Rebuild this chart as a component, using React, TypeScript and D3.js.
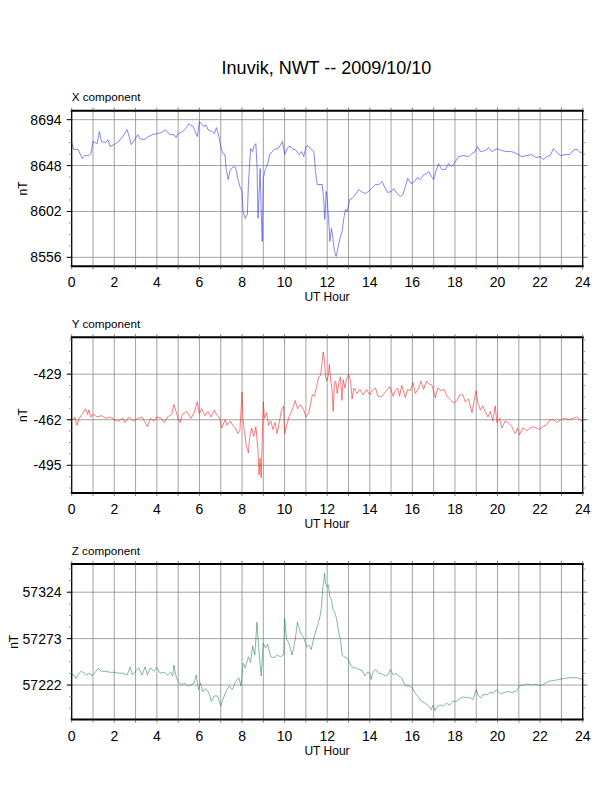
import React, { useEffect, useRef } from 'react';
import * as d3 from 'd3';

// readings [UT hour, nT]
const xComponent = [
  [0, 8671], [0.1, 8664], [0.3, 8664], [0.5, 8655], [0.6, 8658], [0.8, 8658], [0.9, 8660], [1.0, 8672], [1.2, 8670], [1.3, 8682],
  [1.4, 8672], [1.6, 8671], [1.7, 8674], [1.8, 8667], [2.0, 8669], [2.2, 8672], [2.4, 8677], [2.6, 8684], [2.7, 8677], [2.8, 8669],
  [3.0, 8675], [3.1, 8679], [3.2, 8675], [3.4, 8674], [3.6, 8677], [3.8, 8679], [4.0, 8680], [4.2, 8681], [4.4, 8684], [4.6, 8679],
  [4.8, 8679], [4.9, 8676], [5.0, 8680], [5.2, 8682], [5.4, 8686], [5.5, 8690], [5.7, 8687], [5.9, 8677], [6.0, 8692], [6.1, 8690],
  [6.2, 8687], [6.3, 8689], [6.4, 8684], [6.6, 8682], [6.7, 8680], [6.8, 8686], [6.9, 8679], [7.0, 8667], [7.1, 8660], [7.2, 8659],
  [7.25, 8645], [7.35, 8634], [7.45, 8644], [7.6, 8647], [7.7, 8646], [7.8, 8635], [7.9, 8627], [8.0, 8622], [8.05, 8602], [8.15, 8595],
  [8.25, 8599], [8.3, 8629], [8.4, 8665], [8.5, 8662], [8.55, 8667], [8.65, 8670], [8.7, 8649], [8.75, 8595], [8.8, 8619], [8.85, 8645],
  [8.9, 8602], [8.95, 8572], [9.0, 8635], [9.1, 8645], [9.2, 8649], [9.3, 8659], [9.5, 8664], [9.7, 8665], [9.9, 8672], [10.0, 8659],
  [10.1, 8664], [10.2, 8667], [10.3, 8667], [10.4, 8664], [10.5, 8664], [10.7, 8659], [10.8, 8662], [10.9, 8657], [11.0, 8667], [11.1, 8668],
  [11.22, 8665], [11.375, 8662], [11.45, 8642], [11.53, 8629], [11.77, 8629], [11.84, 8612], [11.89, 8594], [11.95, 8622], [12.0, 8615], [12.08, 8589],
  [12.125, 8572], [12.2, 8585], [12.27, 8575], [12.34, 8562], [12.42, 8557], [12.5, 8565], [12.6, 8575], [12.7, 8582], [12.78, 8595], [12.86, 8604],
  [12.94, 8602], [13.06, 8614], [13.17, 8615], [13.33, 8619], [13.48, 8624], [13.6, 8622], [13.77, 8620], [13.95, 8622], [14.08, 8625], [14.27, 8629],
  [14.42, 8629], [14.58, 8632], [14.73, 8625], [14.84, 8621], [15.0, 8622], [15.12, 8625], [15.28, 8620], [15.44, 8617], [15.56, 8619], [15.67, 8627],
  [15.78, 8635], [15.94, 8630], [16.1, 8632], [16.22, 8636], [16.375, 8634], [16.53, 8639], [16.66, 8640], [16.77, 8642], [16.89, 8637], [17.0, 8634],
  [17.1, 8642], [17.23, 8650], [17.39, 8644], [17.55, 8644], [17.7, 8650], [17.86, 8647], [18.02, 8652], [18.17, 8657], [18.4, 8658], [18.64, 8657],
  [18.8, 8660], [18.95, 8662], [19.06, 8667], [19.19, 8662], [19.42, 8663], [19.58, 8666], [19.73, 8662], [19.97, 8665], [20.2, 8663], [20.44, 8662],
  [20.67, 8662], [20.9, 8660], [21.14, 8657], [21.375, 8658], [21.61, 8659], [21.81, 8656], [22.0, 8657], [22.16, 8654], [22.31, 8657], [22.47, 8658],
  [22.625, 8665], [22.75, 8662], [22.94, 8658], [23.17, 8659], [23.4, 8659], [23.6, 8664], [23.75, 8664], [23.875, 8661], [24, 8662]
];

const yComponent = [
  [0, -461], [0.1, -462], [0.15, -460], [0.25, -466], [0.35, -461], [0.5, -458], [0.65, -454], [0.75, -458], [0.8, -455], [0.9, -460],
  [1.0, -458], [1.2, -460], [1.4, -459], [1.6, -461], [1.8, -460], [2.0, -462], [2.2, -463], [2.4, -461], [2.5, -464], [2.7, -460],
  [2.9, -463], [3.1, -461], [3.3, -460], [3.45, -464], [3.55, -467], [3.7, -461], [3.85, -463], [4.0, -460], [4.2, -461], [4.35, -464],
  [4.5, -460], [4.7, -458], [4.8, -451], [4.9, -456], [5.0, -461], [5.1, -464], [5.2, -458], [5.4, -456], [5.6, -461], [5.75, -457],
  [5.9, -449], [6.0, -458], [6.1, -454], [6.25, -459], [6.4, -456], [6.55, -460], [6.7, -455], [6.8, -458], [6.95, -461], [7.05, -468],
  [7.2, -462], [7.3, -466], [7.45, -463], [7.6, -467], [7.7, -468], [7.8, -472], [7.9, -470], [8.0, -442], [8.05, -462], [8.1, -469],
  [8.2, -481], [8.3, -486], [8.35, -476], [8.45, -468], [8.55, -474], [8.65, -467], [8.75, -484], [8.8, -502], [8.85, -490], [8.9, -504],
  [9.0, -449], [9.05, -461], [9.15, -457], [9.25, -466], [9.35, -463], [9.45, -469], [9.55, -464], [9.65, -472], [9.75, -464], [9.85, -455],
  [9.95, -452], [10.0, -472], [10.1, -466], [10.2, -460], [10.35, -455], [10.5, -448], [10.6, -454], [10.75, -451], [10.9, -455], [11.0, -460],
  [11.14, -457], [11.3, -444], [11.4, -445], [11.5, -438], [11.6, -431], [11.69, -430], [11.77, -419], [11.81, -413], [11.875, -419], [11.92, -431],
  [11.98, -434], [12.05, -430], [12.1, -422], [12.17, -434], [12.23, -440], [12.28, -456], [12.34, -435], [12.4, -434], [12.47, -443], [12.55, -435],
  [12.625, -431], [12.69, -448], [12.75, -433], [12.83, -439], [12.9, -433], [13.0, -429], [13.1, -434], [13.17, -447], [13.25, -439], [13.4, -443],
  [13.53, -440], [13.69, -444], [13.84, -440], [14.0, -444], [14.1, -441], [14.27, -439], [14.375, -445], [14.58, -445], [14.78, -441], [14.94, -438],
  [15.1, -445], [15.2, -441], [15.31, -439], [15.4, -445], [15.5, -437], [15.67, -446], [15.78, -440], [15.9, -441], [16.03, -435], [16.14, -443],
  [16.3, -439], [16.4, -434], [16.53, -440], [16.66, -434], [16.77, -436], [16.92, -437], [17.08, -446], [17.19, -439], [17.34, -441], [17.5, -440],
  [17.625, -445], [17.81, -448], [17.94, -450], [18.1, -448], [18.22, -444], [18.375, -444], [18.48, -449], [18.64, -447], [18.8, -457], [18.9, -448],
  [19.0, -441], [19.08, -450], [19.19, -455], [19.31, -452], [19.42, -456], [19.55, -460], [19.66, -456], [19.78, -463], [19.89, -452], [19.97, -464],
  [20.1, -461], [20.2, -468], [20.36, -463], [20.5, -464], [20.67, -467], [20.83, -472], [20.94, -468], [21.03, -473], [21.19, -468], [21.375, -470],
  [21.53, -468], [21.69, -467], [21.84, -468], [21.97, -469], [22.125, -467], [22.28, -466], [22.47, -462], [22.625, -462], [22.78, -464], [22.97, -462],
  [23.17, -461], [23.375, -462], [23.56, -461], [23.72, -460], [23.875, -462], [24, -463]
];

const zComponent = [
  [0, 57234], [0.1, 57233], [0.2, 57229], [0.3, 57234], [0.45, 57237], [0.6, 57235], [0.7, 57233], [0.85, 57235], [0.95, 57232], [1.1, 57236],
  [1.25, 57240], [1.4, 57237], [1.6, 57237], [1.8, 57236], [2.0, 57236], [2.2, 57235], [2.4, 57235], [2.6, 57233], [2.75, 57242], [2.85, 57233],
  [3.0, 57237], [3.15, 57241], [3.3, 57233], [3.45, 57242], [3.55, 57233], [3.7, 57241], [3.85, 57237], [4.0, 57241], [4.15, 57235], [4.35, 57236],
  [4.5, 57233], [4.65, 57236], [4.75, 57232], [4.8, 57244], [4.9, 57232], [5.0, 57226], [5.15, 57222], [5.3, 57224], [5.45, 57221], [5.6, 57222],
  [5.75, 57224], [5.85, 57233], [5.95, 57217], [6.05, 57224], [6.15, 57215], [6.3, 57218], [6.45, 57213], [6.55, 57204], [6.7, 57210], [6.85, 57210],
  [7.0, 57199], [7.1, 57206], [7.25, 57215], [7.4, 57221], [7.55, 57217], [7.7, 57226], [7.85, 57230], [7.95, 57221], [8.05, 57246], [8.15, 57241],
  [8.3, 57253], [8.4, 57247], [8.5, 57265], [8.6, 57255], [8.7, 57291], [8.75, 57272], [8.85, 57244], [8.9, 57232], [9.0, 57268], [9.1, 57263],
  [9.2, 57267], [9.35, 57253], [9.5, 57252], [9.65, 57255], [9.8, 57253], [9.95, 57255], [10.0, 57295], [10.1, 57272], [10.2, 57268], [10.35, 57255],
  [10.5, 57272], [10.6, 57291], [10.75, 57279], [10.9, 57274], [11.03, 57264], [11.14, 57266], [11.25, 57261], [11.375, 57274], [11.53, 57286], [11.66, 57297],
  [11.73, 57308], [11.8, 57330], [11.84, 57336], [11.875, 57345], [11.92, 57334], [12.0, 57330], [12.06, 57332], [12.125, 57319], [12.2, 57316], [12.27, 57305],
  [12.34, 57303], [12.44, 57295], [12.55, 57279], [12.625, 57272], [12.7, 57255], [12.8, 57253], [12.9, 57252], [13.0, 57250], [13.1, 57244], [13.2, 57241],
  [13.33, 57241], [13.48, 57239], [13.64, 57238], [13.77, 57232], [13.875, 57236], [14.0, 57235], [14.06, 57228], [14.16, 57237], [14.3, 57239], [14.42, 57235],
  [14.58, 57234], [14.73, 57232], [14.84, 57233], [14.97, 57239], [15.1, 57233], [15.2, 57235], [15.36, 57232], [15.5, 57230], [15.67, 57221], [15.83, 57221],
  [16.0, 57219], [16.14, 57213], [16.3, 57208], [16.45, 57204], [16.6, 57202], [16.77, 57199], [16.89, 57195], [16.97, 57200], [17.06, 57194], [17.19, 57199],
  [17.31, 57200], [17.47, 57199], [17.6, 57202], [17.75, 57200], [17.9, 57204], [18.06, 57204], [18.22, 57207], [18.4, 57209], [18.56, 57208], [18.72, 57208],
  [18.84, 57206], [19.0, 57217], [19.1, 57210], [19.22, 57208], [19.34, 57212], [19.5, 57211], [19.66, 57214], [19.81, 57213], [19.94, 57217], [20.1, 57213],
  [20.28, 57213], [20.47, 57215], [20.67, 57214], [20.875, 57215], [21.03, 57221], [21.22, 57222], [21.4, 57223], [21.61, 57222], [21.81, 57223], [22.0, 57221],
  [22.19, 57223], [22.39, 57226], [22.625, 57227], [22.86, 57228], [23.1, 57229], [23.33, 57230], [23.56, 57230], [23.75, 57230], [24, 57228]
];

const hourLabels = [0, 2, 4, 6, 8, 10, 12, 14, 16, 18, 20, 22, 24];
const xTicks = [8556, 8602, 8648, 8694];
const yTicks = [-495, -462, -429];
const zTicks = [57222, 57273, 57324];

const App = () => {
  const ref = useRef(null);

  useEffect(() => {
    if (!ref.current) return;
    d3.select(ref.current).selectAll('*').remove();

    const width = 612;
    const height = 792;
    const left = 71.7;
    const right = 582.7;
    const font = 'Liberation Sans, Arial, Helvetica, sans-serif';

    const svg = d3.select(ref.current)
      .append('svg')
      .attr('width', width)
      .attr('height', height)
      .style('position', 'absolute')
      .style('left', 0)
      .style('top', 0)
      .style('background', 'white');

    svg.append('text')
      .attr('x', 326.5)
      .attr('y', 73.5)
      .attr('text-anchor', 'middle')
      .style('font-family', font)
      .style('font-size', '18px')
      .text('Inuvik, NWT -- 2009/10/10');

    const x = d3.scaleLinear().domain([0, 24]).range([left, right]);

    const panels = [
      { name: 'X component', data: xComponent, ticks: xTicks, domain: [8547, 8703], top: 110.7, color: '#3333ff', nTx: 22.5 },
      { name: 'Y component', data: yComponent, ticks: yTicks, domain: [-515, -402.3], top: 337.3, color: '#ff2020', nTx: 22.5 },
      { name: 'Z component', data: zComponent, ticks: zTicks, domain: [57184, 57355], top: 564, color: '#2e8b57', nTx: 14 }
    ];
    const ph = 155.6;

    panels.forEach((p, i) => {
      const bottom = p.top + ph;
      const y = d3.scaleLinear().domain(p.domain).range([bottom, p.top]);
      const g = svg.append('g');

      const step = p.ticks[1] - p.ticks[0];
      const minor = d3.range(p.ticks[0] - step, p.domain[1] + 0.01, step / 4)
        .filter(v => v >= p.domain[0] && v <= p.domain[1]);

      // grid
      g.selectAll('.vg').data(d3.range(1, 24)).enter().append('line')
        .attr('x1', d => x(d)).attr('x2', d => x(d))
        .attr('y1', p.top).attr('y2', bottom)
        .style('stroke', '#8a8a8a').style('stroke-width', 0.8);
      g.selectAll('.hg').data(p.ticks).enter().append('line')
        .attr('x1', left).attr('x2', right)
        .attr('y1', d => y(d)).attr('y2', d => y(d))
        .style('stroke', '#8a8a8a').style('stroke-width', 0.8);

      // clip + series
      const clipId = `clip${i}`;
      svg.append('clipPath').attr('id', clipId)
        .append('rect').attr('x', left).attr('y', p.top).attr('width', right - left).attr('height', ph);
      const line = d3.line().x(d => x(d[0])).y(d => y(d[1]));
      g.append('path')
        .datum(p.data)
        .attr('clip-path', `url(#${clipId})`)
        .attr('d', line)
        .style('fill', 'none')
        .style('stroke', p.color)
        .style('stroke-width', 0.6)
        .style('stroke-linejoin', 'round');

      // frame
      g.append('line').attr('x1', left - 1).attr('x2', right + 1).attr('y1', p.top).attr('y2', p.top)
        .style('stroke', 'black').style('stroke-width', 2);
      g.append('line').attr('x1', left - 1).attr('x2', right + 1).attr('y1', bottom).attr('y2', bottom)
        .style('stroke', 'black').style('stroke-width', 2);
      [left, right].forEach(xx => {
        g.append('line').attr('x1', xx).attr('x2', xx).attr('y1', p.top).attr('y2', bottom)
          .style('stroke', 'black').style('stroke-width', 1.3);
      });

      // hour ticks top and bottom
      d3.range(0, 25).forEach(h => {
        g.append('line').attr('x1', x(h)).attr('x2', x(h)).attr('y1', bottom).attr('y2', bottom + 3)
          .style('stroke', '#555').style('stroke-width', 0.8);
        g.append('line').attr('x1', x(h)).attr('x2', x(h)).attr('y1', p.top).attr('y2', p.top - 3)
          .style('stroke', '#555').style('stroke-width', 0.8);
      });

      // value ticks left and right
      minor.forEach(v => {
        g.append('line').attr('x1', left - 2.5).attr('x2', left).attr('y1', y(v)).attr('y2', y(v))
          .style('stroke', '#777').style('stroke-width', 0.8);
        g.append('line').attr('x1', right).attr('x2', right + 2.5).attr('y1', y(v)).attr('y2', y(v))
          .style('stroke', '#777').style('stroke-width', 0.8);
      });
      p.ticks.forEach(v => {
        g.append('line').attr('x1', left - 5).attr('x2', left).attr('y1', y(v)).attr('y2', y(v))
          .style('stroke', 'black').style('stroke-width', 1);
        g.append('line').attr('x1', right).attr('x2', right + 5).attr('y1', y(v)).attr('y2', y(v))
          .style('stroke', '#555').style('stroke-width', 0.8);
      });

      // labels
      g.selectAll('.yl').data(p.ticks).enter().append('text')
        .attr('x', 61.5)
        .attr('y', d => y(d))
        .attr('dy', '0.36em')
        .attr('text-anchor', 'end')
        .style('font-family', font)
        .style('font-size', '14px')
        .text(d => d);

      g.selectAll('.xl').data(hourLabels).enter().append('text')
        .attr('x', d => x(d))
        .attr('y', bottom + 21)
        .attr('text-anchor', 'middle')
        .style('font-family', font)
        .style('font-size', '14px')
        .text(d => d);

      g.append('text')
        .attr('x', 327)
        .attr('y', bottom + 35)
        .attr('text-anchor', 'middle')
        .style('font-family', font)
        .style('font-size', '12px')
        .text('UT Hour');

      g.append('text')
        .attr('x', left)
        .attr('y', p.top - 9.5)
        .style('font-family', font)
        .style('font-size', '11.7px')
        .text(p.name);

      g.append('text')
        .attr('transform', `translate(${p.nTx + 4}, ${p.top + ph / 2}) rotate(-90)`)
        .attr('text-anchor', 'middle')
        .style('font-family', font)
        .style('font-size', '12px')
        .text('nT');
    });
  }, []);

  return <div ref={ref} style={{ width: 612, height: 792 }} />;
};

export default App;
